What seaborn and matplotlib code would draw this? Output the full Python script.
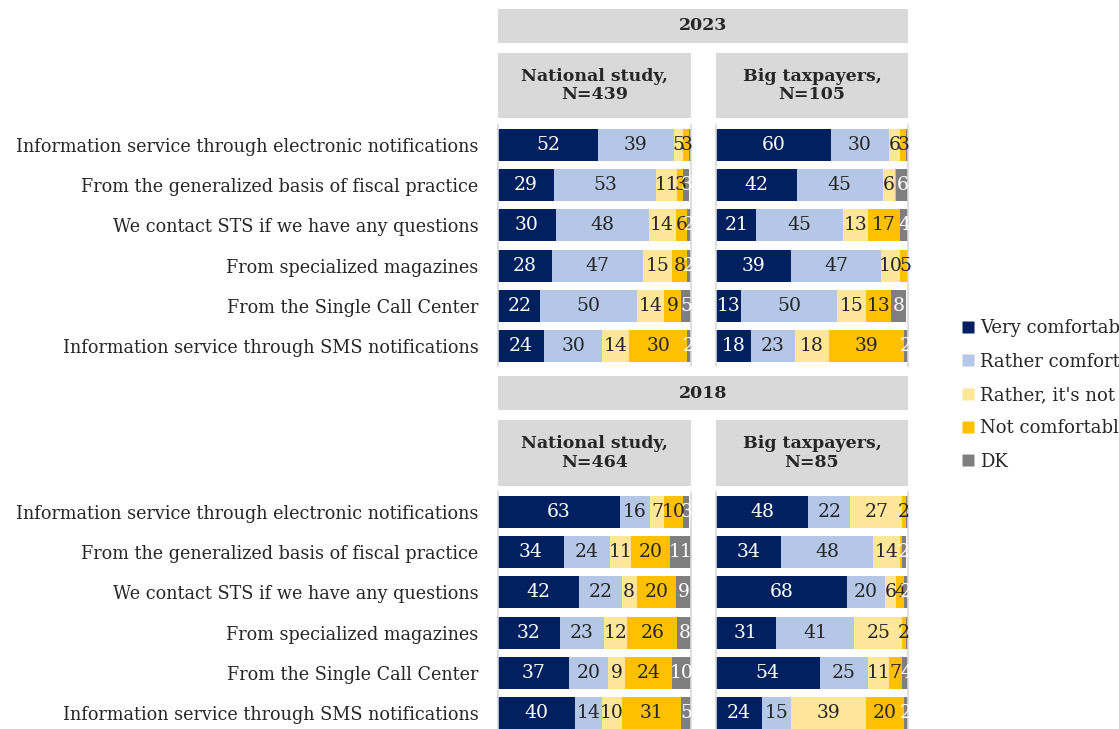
import matplotlib
matplotlib.use("Agg")
import matplotlib.pyplot as plt
from matplotlib.patches import Rectangle
from matplotlib.lines import Line2D
import numpy as np
import pandas as pd
import seaborn as sns

sns.set_theme(style="white")
plt.rcParams["font.family"] = ["DejaVu Serif"]

categories = [
    "Information service through electronic notifications",
    "From the generalized basis of fiscal practice",
    "We contact STS if we have any questions",
    "From specialized magazines",
    "From the Single Call Center",
    "Information service through SMS notifications",
]
answers = ["Very comfortable", "Rather comfortable", "Rather, it's not comfortable",
           "Not comfortable at all", "DK"]
colors = ["#002060", "#B4C7E7", "#FFE699", "#FFC000", "#7F7F7F"]
label_colors = ["white", "#262626", "#262626", "#262626", "white"]

# rows = categories, columns = answers (percent)
national_2023 = [
    [52, 39, 5, 3, 1],
    [29, 53, 11, 3, 3],
    [30, 48, 14, 6, 2],
    [28, 47, 15, 8, 2],
    [22, 50, 14, 9, 5],
    [24, 30, 14, 30, 2],
]
big_2023 = [
    [60, 30, 6, 3, 1],
    [42, 45, 6, 1, 6],
    [21, 45, 13, 17, 4],
    [39, 47, 10, 5, 0],
    [13, 50, 15, 13, 8],
    [18, 23, 18, 39, 2],
]
national_2018 = [
    [63, 16, 7, 10, 3],
    [34, 24, 11, 20, 11],
    [42, 22, 8, 20, 9],
    [32, 23, 12, 26, 8],
    [37, 20, 9, 24, 10],
    [40, 14, 10, 31, 5],
]
big_2018 = [
    [48, 22, 27, 2, 1],
    [34, 48, 14, 1, 2],
    [68, 20, 6, 4, 2],
    [31, 41, 25, 2, 1],
    [54, 25, 11, 7, 4],
    [24, 15, 39, 20, 2],
]

years = ["2023", "2018"]
groups = ["National study,\nN=439", "Big taxpayers,\nN=105",
          "National study,\nN=464", "Big taxpayers,\nN=85"]

W, H = 1119, 729
fig = plt.figure(figsize=(W / 100, H / 100), dpi=100)


def fbox(x0, y0, x1, y1):
    """Pixel box (top-left origin) -> figure fraction rect."""
    return [x0 / W, 1 - y1 / H, (x1 - x0) / W, (y1 - y0) / H]


def header(x0, y0, x1, y1, text):
    r = fbox(x0, y0, x1, y1)
    fig.add_artist(Rectangle((r[0], r[1]), r[2], r[3], transform=fig.transFigure,
                             facecolor="#D9D9D9", edgecolor="none"))
    fig.text(r[0] + r[2] / 2, r[1] + r[3] / 2, text, ha="center", va="center",
             fontsize=12.5, fontweight="bold", color="#262626", linespacing=1.15)


def panel(rect, data, show_labels):
    ax = fig.add_axes(rect)
    df = pd.DataFrame(data, columns=answers)
    df["category"] = categories
    cum = df[answers].cumsum(axis=1)
    # overlapping cumulative bars give the stacked look
    for i in range(len(answers) - 1, -1, -1):
        sns.barplot(x=cum[answers[i]], y=df["category"], orient="h", color=colors[i],
                    width=0.8, ax=ax, saturation=1, edgecolor="none")
    for r in range(len(categories)):
        start = 0
        for i, a in enumerate(answers):
            v = df.loc[r, a]
            if v >= 2:
                ax.text(start + v / 2, r, f"{v}", ha="center", va="center",
                        fontsize=13.5, color=label_colors[i])
            start += v
    ax.set_xlim(0, 100)
    ax.set_ylim(5.5, -0.5)
    ax.set_xlabel("")
    ax.set_ylabel("")
    ax.set_xticks([])
    for s in ["top", "bottom"]:
        ax.spines[s].set_visible(False)
    for s in ["left", "right"]:
        ax.spines[s].set_color("#D9D9D9")
        ax.spines[s].set_linewidth(1.2)
    ax.tick_params(axis="y", length=0, pad=14)
    if show_labels:
        ax.set_yticks(range(len(categories)))
        ax.set_yticklabels(categories, fontsize=12.7, color="#262626")
    else:
        ax.set_yticks([])
    return ax


# 2023 block
header(498, 9, 908, 43, years[0])
header(498, 53, 691, 118, groups[0])
header(716, 53, 908, 118, groups[1])
panel(fbox(498, 125, 691, 366), national_2023, True)
panel(fbox(716, 125, 908, 366), big_2023, False)

# 2018 block
header(498, 376, 908, 410, years[1])
header(498, 420, 691, 486, groups[2])
header(716, 420, 908, 486, groups[3])
panel(fbox(498, 492, 691, 733), national_2018, True)
panel(fbox(716, 492, 908, 733), big_2018, False)

handles = [Line2D([], [], marker="s", linestyle="none", markersize=9,
                  markerfacecolor=c, markeredgecolor="none") for c in colors]
fig.legend(handles, answers, loc="upper left", bbox_to_anchor=(955 / W, 1 - 312 / H),
           frameon=False, fontsize=13, handlelength=0.6, handletextpad=0.4,
           labelspacing=0.85, borderaxespad=0, labelcolor="#262626")

fig.savefig("out.png", dpi=100)
